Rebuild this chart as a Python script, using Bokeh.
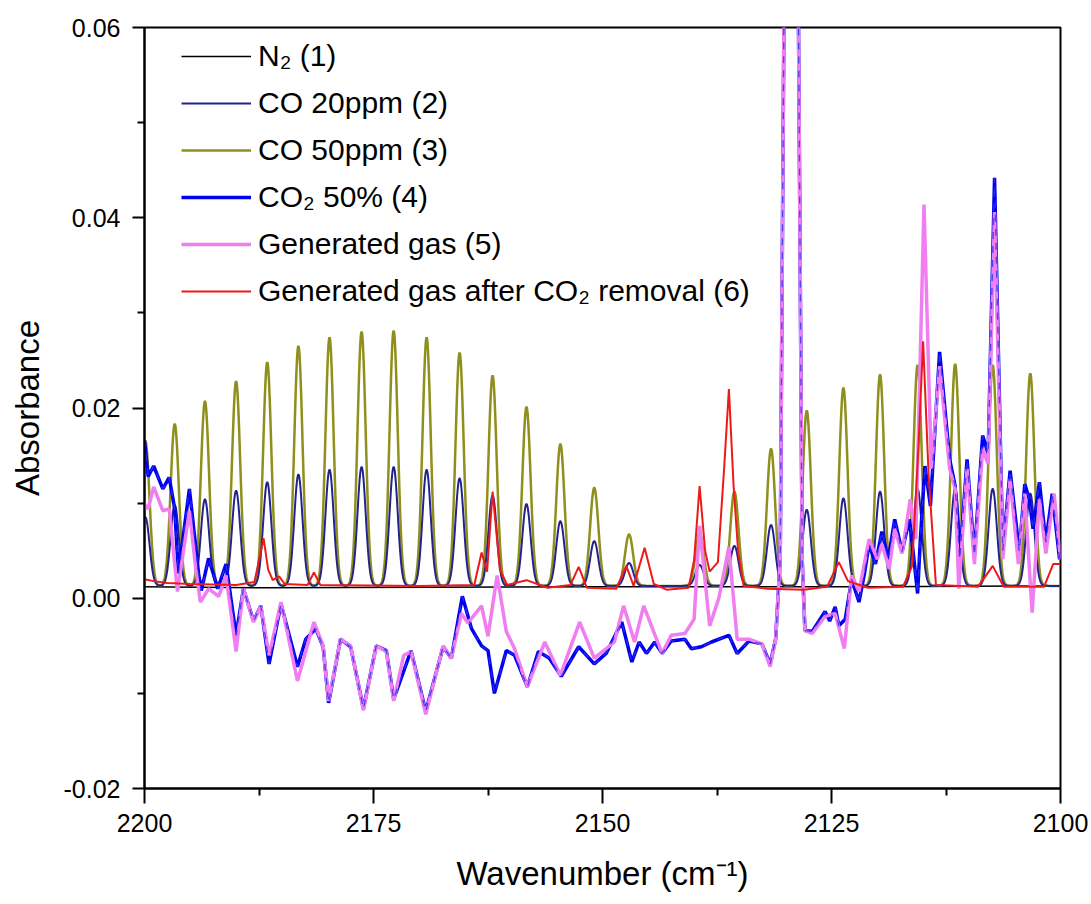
import numpy as np
from bokeh.plotting import figure
from bokeh.models import Range1d, Legend, LegendItem, FixedTicker, NumeralTickFormatter
from bokeh.embed import file_html
from bokeh.resources import INLINE

# ---------------- data ----------------
# CO ro-vibrational line positions (cm-1) and peak absorbances
co_center = [2199.9, 2196.7, 2193.4, 2190.0, 2186.6, 2183.2, 2179.8, 2176.3, 2172.8,
             2169.2, 2165.6, 2162.0, 2158.3, 2154.6, 2150.9, 2147.1, 2139.4, 2135.6,
             2131.6, 2127.7, 2123.7, 2119.7, 2115.6, 2111.5, 2107.4, 2103.3]
co50_peak = [0.0165, 0.0183, 0.0207, 0.0228, 0.0248, 0.0265, 0.0274, 0.0280, 0.0281,
             0.0274, 0.0258, 0.0234, 0.0201, 0.0162, 0.0116, 0.0067, 0.0068, 0.0112,
             0.0157, 0.0197, 0.0221, 0.0235, 0.0245, 0.0246, 0.0245, 0.0236]
co20_peak = [0.0085, 0.0098, 0.0104, 0.0113, 0.0122, 0.0130, 0.0135, 0.0138, 0.0138,
             0.0135, 0.0126, 0.0108, 0.0099, 0.0081, 0.0060, 0.0037, 0.0035, 0.0055,
             0.0077, 0.0093, 0.0105, 0.0112, 0.0115, 0.0115, 0.0115, 0.0110]
co_baseline = 0.0013
co_line_sigma = 0.45  # cm-1, line shape width

n2_points = [(2200.0, 0.0012), (2187.0, 0.0011), (2150.0, 0.0012), (2120.0, 0.0012), (2100.0, 0.0013)]

co2_points = [
    (2200.0, 0.0166), (2199.6, 0.0128), (2199.0, 0.0139), (2198.0, 0.0115), (2197.3, 0.0127),
    (2196.7, 0.0094), (2196.3, 0.0026), (2195.1, 0.0115), (2194.5, 0.0062), (2194.1, 0.0026),
    (2193.8, 0.0008), (2193.0, 0.0042), (2192.0, 0.0010), (2191.1, 0.0036), (2190.0, -0.0039),
    (2189.2, 0.0010), (2188.1, -0.0024), (2187.3, -0.0008), (2186.4, -0.0069), (2185.1, -0.0006),
    (2183.3, -0.0072), (2182.4, -0.0043), (2181.3, -0.0032), (2180.5, -0.0051), (2179.9, -0.0110),
    (2178.6, -0.0043), (2177.5, -0.0051), (2176.1, -0.0116), (2174.7, -0.0050), (2173.6, -0.0055),
    (2172.8, -0.0106), (2170.9, -0.0055), (2169.3, -0.0119), (2167.4, -0.0051), (2166.5, -0.0063),
    (2165.3, 0.0002), (2164.3, -0.0032), (2163.2, -0.0050), (2162.5, -0.0055), (2161.8, -0.0100),
    (2160.5, -0.0055), (2159.6, -0.0060), (2158.2, -0.0093), (2157.0, -0.0056), (2155.8, -0.0063),
    (2154.5, -0.0082), (2152.6, -0.0051), (2150.9, -0.0069), (2149.6, -0.0058), (2147.9, -0.0025),
    (2146.8, -0.0067), (2146.0, -0.0046), (2145.2, -0.0058), (2144.3, -0.0046), (2143.5, -0.0058),
    (2142.5, -0.0045), (2141.0, -0.0043), (2140.3, -0.0053), (2139.2, -0.0051), (2138.1, -0.0046),
    (2136.2, -0.0039), (2135.3, -0.0058), (2134.0, -0.0045), (2132.6, -0.0048), (2131.7, -0.0069),
    (2131.1, -0.0043), (2130.6, 0.0041), (2130.2, 0.0600), (2129.4, 0.1000), (2128.6, 0.0600),
    (2128.2, 0.0041), (2127.9, -0.0034), (2127.1, -0.0035), (2125.7, -0.0014), (2125.2, -0.0024),
    (2124.6, -0.0009), (2124.2, -0.0029), (2123.5, -0.0022), (2122.8, 0.0020), (2122.0, -0.0004),
    (2121.4, 0.0026), (2120.9, 0.0057), (2120.2, 0.0036), (2119.5, 0.0070), (2118.8, 0.0041),
    (2118.1, 0.0083), (2117.3, 0.0049), (2116.5, 0.0083), (2116.0, 0.0041), (2115.6, 0.0005),
    (2115.3, 0.0062), (2114.8, 0.0139), (2114.2, 0.0097), (2113.2, 0.0259), (2112.1, 0.0146),
    (2111.5, 0.0118), (2111.0, 0.0041), (2110.2, 0.0146), (2109.4, 0.0045), (2108.5, 0.0171),
    (2107.9, 0.0152), (2107.2, 0.0442), (2106.3, 0.0050), (2105.5, 0.0134), (2104.5, 0.0049),
    (2103.9, 0.0120), (2103.4, 0.0104), (2103.0, 0.0073), (2102.3, 0.0122), (2101.6, 0.0059),
    (2100.9, 0.0110), (2100.1, 0.0041), (2100.0, 0.0047)]

gen_points = [
    (2200.0, 0.0099), (2199.6, 0.0094), (2199.0, 0.0117), (2198.0, 0.0092), (2197.3, 0.0094),
    (2196.4, 0.0007), (2195.1, 0.0092), (2194.4, 0.0031), (2193.9, -0.0004), (2193.0, 0.0010),
    (2191.9, 0.0002), (2191.1, 0.0024), (2190.0, -0.0056), (2189.2, 0.0010), (2188.1, -0.0025),
    (2187.3, -0.0008), (2186.4, -0.0060), (2185.1, -0.0004), (2183.3, -0.0087), (2181.5, -0.0025),
    (2180.5, -0.0050), (2179.9, -0.0108), (2178.6, -0.0043), (2177.5, -0.0050), (2176.1, -0.0118),
    (2174.7, -0.0050), (2173.6, -0.0056), (2172.8, -0.0108), (2171.7, -0.0060), (2170.9, -0.0056),
    (2169.3, -0.0122), (2167.4, -0.0050), (2166.5, -0.0063), (2165.4, -0.0016), (2164.7, -0.0026),
    (2163.2, -0.0008), (2162.5, -0.0040), (2161.5, 0.0024), (2160.5, -0.0035), (2159.6, -0.0053),
    (2158.2, -0.0093), (2156.3, -0.0046), (2154.6, -0.0081), (2152.5, -0.0025), (2150.9, -0.0063),
    (2148.7, -0.0046), (2147.7, -0.0008), (2146.5, -0.0046), (2145.5, -0.0008), (2143.5, -0.0058),
    (2142.5, -0.0039), (2141.0, -0.0037), (2140.0, -0.0022), (2139.4, 0.0076), (2138.3, -0.0029),
    (2137.3, 0.0000), (2136.2, 0.0054), (2135.3, -0.0043), (2134.0, -0.0043), (2132.6, -0.0048),
    (2131.7, -0.0072), (2131.1, -0.0043), (2130.6, 0.0041), (2130.2, 0.0600), (2129.4, 0.1000),
    (2128.6, 0.0600), (2128.2, 0.0041), (2127.9, -0.0034), (2127.1, -0.0037), (2125.7, -0.0019),
    (2124.6, -0.0016), (2123.6, -0.0053), (2122.8, 0.0024), (2122.0, 0.0007), (2120.9, 0.0062),
    (2120.0, 0.0041), (2119.5, 0.0057), (2118.7, 0.0031), (2118.1, 0.0073), (2117.3, 0.0047),
    (2116.4, 0.0104), (2115.8, 0.0062), (2114.9, 0.0414), (2114.1, 0.0136), (2113.2, 0.0244),
    (2112.1, 0.0136), (2111.5, 0.0115), (2111.1, 0.0010), (2110.2, 0.0136), (2109.4, 0.0036),
    (2108.5, 0.0157), (2107.9, 0.0141), (2107.2, 0.0406), (2106.3, 0.0041), (2105.5, 0.0125),
    (2104.6, 0.0036), (2103.9, 0.0110), (2103.1, -0.0015), (2102.3, 0.0104), (2101.6, 0.0047),
    (2100.7, 0.0110), (2100.0, 0.0041)]

removed_points = [
    (2200.0, 0.0020), (2199.0, 0.0018), (2197.5, 0.0016), (2195.0, 0.0015), (2190.0, 0.0014),
    (2188.0, 0.0017), (2187.5, 0.0040), (2187.0, 0.0063), (2186.5, 0.0030), (2186.0, 0.0019),
    (2185.3, 0.0023), (2184.7, 0.0015), (2182.2, 0.0014), (2181.5, 0.0027), (2180.8, 0.0014),
    (2170.0, 0.0013), (2164.0, 0.0014), (2163.2, 0.0048), (2162.6, 0.0028), (2162.0, 0.0112),
    (2161.2, 0.0030), (2160.4, 0.0014), (2158.3, 0.0019), (2156.0, 0.0011), (2153.5, 0.0014),
    (2152.6, 0.0033), (2151.7, 0.0011), (2148.5, 0.0010), (2147.4, 0.0034), (2146.6, 0.0013),
    (2145.4, 0.0053), (2144.4, 0.0015), (2143.0, 0.0009), (2140.6, 0.0011), (2140.0, 0.0040),
    (2139.4, 0.0118), (2138.8, 0.0050), (2138.3, 0.0028), (2137.4, 0.0038), (2136.7, 0.0140),
    (2136.2, 0.0220), (2135.7, 0.0120), (2135.2, 0.0050), (2134.6, 0.0013), (2132.0, 0.0010),
    (2128.0, 0.0009), (2125.5, 0.0012), (2124.2, 0.0038), (2123.2, 0.0018), (2121.0, 0.0011),
    (2117.2, 0.0012), (2116.2, 0.0034), (2115.5, 0.0160), (2115.0, 0.0270), (2114.4, 0.0130),
    (2113.6, 0.0014), (2109.0, 0.0012), (2107.4, 0.0034), (2106.2, 0.0012), (2101.8, 0.0012),
    (2100.8, 0.0036), (2100.0, 0.0036)]

labels = ["N\u2082 (1)", "CO 20ppm (2)", "CO 50ppm (3)", "CO\u2082 50% (4)",
          "Generated gas (5)", "Generated gas after CO\u2082 removal (6)"]
x_ticks = [2200, 2175, 2150, 2125, 2100]
y_ticks = [-0.02, 0.00, 0.02, 0.04, 0.06]

# ---------------- build ----------------
FONT = "Liberation Sans, Arial, sans-serif"

wn = np.linspace(2100, 2200, 4001)


def co_band(peaks):
    y = np.full_like(wn, co_baseline)
    for c, h in zip(co_center, peaks):
        y += (h - co_baseline) * np.exp(-0.5 * ((wn - c) / co_line_sigma) ** 2)
    return y


def xy(points):
    return [pt[0] for pt in points], [pt[1] for pt in points]


p = figure(width=1091, height=904, output_backend="svg", toolbar_location=None,
           x_range=Range1d(2200, 2100), y_range=Range1d(-0.02, 0.06),
           min_border_left=144, min_border_right=31, min_border_top=27, min_border_bottom=116)
p.background_fill_color = "white"
p.border_fill_color = "white"
p.xgrid.visible = False
p.ygrid.visible = False
p.outline_line_color = "black"
p.outline_line_width = 2

nx, ny = xy(n2_points)
r1 = p.line(nx, ny, line_color="black", line_width=1.5)
r3 = p.line(wn, co_band(co50_peak), line_color="#8f8f1c", line_width=2.5)
r2 = p.line(wn, co_band(co20_peak), line_color="#23238f", line_width=2)
bx, by = xy(co2_points)
r4 = p.line(bx, by, line_color="#0000f0", line_width=3.5)
gx, gy = xy(gen_points)
r5 = p.line(gx, gy, line_color="#f07ef0", line_width=3.5)
p.line(bx, by, line_color="#3030f0", line_width=1.4, line_dash="7 7", line_alpha=0.8)
rx, ry = xy(removed_points)
r6 = p.line(rx, ry, line_color="#ee1a1a", line_width=2)

# axes
for ax in (p.xaxis[0], p.yaxis[0]):
    ax.axis_line_width = 2
    ax.major_tick_line_width = 2
    ax.minor_tick_line_width = 2
    ax.major_tick_in = 0
    ax.minor_tick_in = 0
    ax.major_label_text_font = FONT
    ax.major_label_text_font_size = "25px"
    ax.major_label_text_color = "black"
    ax.axis_label_text_font = FONT
    ax.axis_label_text_font_size = "33px"
    ax.axis_label_text_font_style = "normal"
    ax.axis_label_text_color = "black"

p.xaxis.ticker = FixedTicker(ticks=x_ticks, minor_ticks=[2187.5, 2162.5, 2137.5, 2112.5])
p.yaxis.ticker = FixedTicker(ticks=y_ticks, minor_ticks=[-0.01, 0.01, 0.03, 0.05])
p.yaxis.formatter = NumeralTickFormatter(format="0.00")
p.xaxis.major_tick_out = 15
p.xaxis.minor_tick_out = 7
p.yaxis.major_tick_out = 12
p.yaxis.minor_tick_out = 7
p.xaxis.major_label_standoff = 10
p.yaxis.major_label_standoff = 12
p.xaxis.axis_label = "Wavenumber (cm\u207b\u00b9)"
p.yaxis.axis_label = "Absorbance"
p.xaxis.axis_label_standoff = 20
p.yaxis.axis_label_standoff = 15

legend = Legend(items=[LegendItem(label=l, renderers=[r]) for l, r in
                       zip(labels, [r1, r2, r3, r4, r5, r6])],
                location=(27, 470))
legend.label_text_font = FONT
legend.label_text_font_size = "30px"
legend.label_text_color = "black"
legend.glyph_width = 70
legend.glyph_height = 20
legend.spacing = 13
legend.padding = 10
legend.margin = 0
legend.label_standoff = 7
legend.border_line_alpha = 0
legend.background_fill_color = "white"
legend.background_fill_alpha = 1.0
p.add_layout(legend)

open("out.html", "w").write(file_html(p, INLINE))
